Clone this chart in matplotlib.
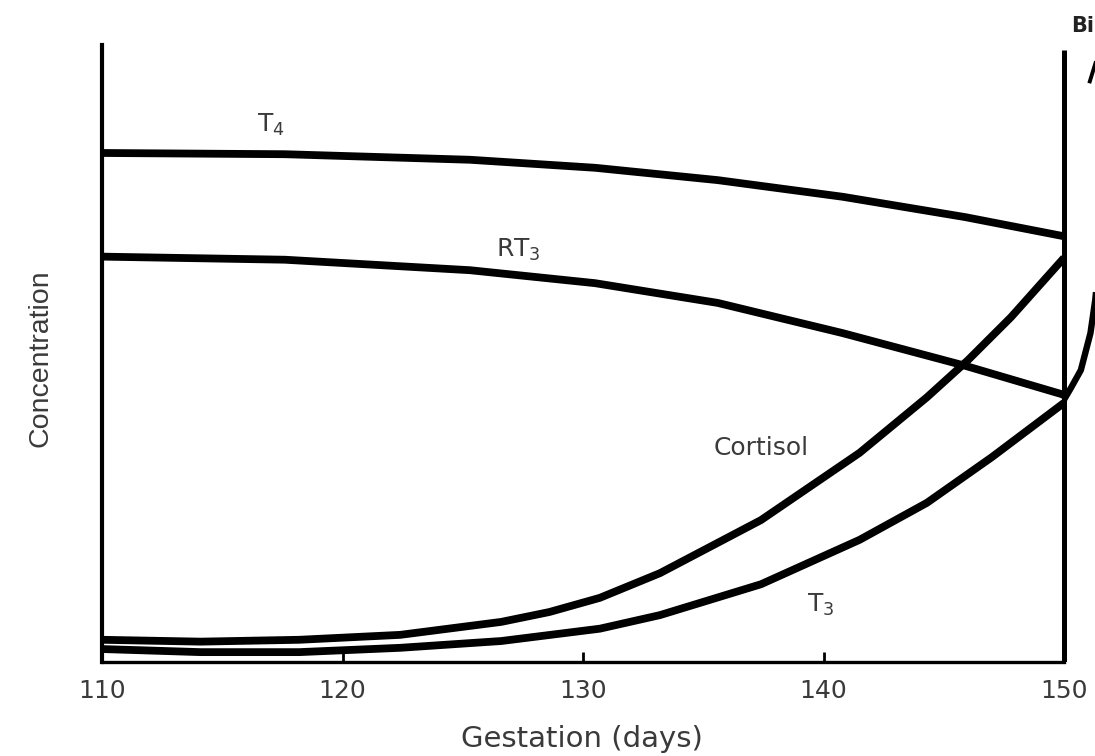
import matplotlib
matplotlib.use("Agg")
import matplotlib.pyplot as plt

plt.rcParams["mathtext.fontset"] = "dejavusans"

# Data; x = gestation day, y = relative concentration (0-100)
t4_days = [110, 117.6, 125.3, 130.5, 135.6, 140.8, 145.9, 150]
t4 = [82.5, 82.3, 81.4, 80.1, 78.1, 75.4, 72.1, 69.0]

rt3_days = [110, 117.6, 125.3, 130.5, 135.6, 140.8, 145.9, 150]
rt3 = [65.7, 65.2, 63.5, 61.4, 58.2, 53.3, 48.0, 43.3]

cort_days = [110, 114.1, 118.2, 122.4, 126.6, 128.6, 130.7, 133.2, 137.4,
             141.5, 144.3, 146.0, 147.8, 150]
cortisol = [3.6, 3.3, 3.6, 4.4, 6.5, 8.1, 10.4, 14.4, 23.0,
            33.9, 42.9, 48.9, 55.9, 65.5]

t3_days = [110, 114.1, 118.2, 122.4, 126.6, 130.7, 133.2, 137.4, 141.5,
           144.3, 147.0, 150]
t3 = [2.1, 1.6, 1.6, 2.3, 3.4, 5.4, 7.6, 12.6, 19.8,
      25.8, 33.2, 42.0]

# steep post-birth rise (runs off the right edge)
post_days = [150.0, 150.3, 150.7, 151.1, 151.3, 151.5]
post_vals = [42.5, 44.5, 47.3, 53.3, 58.7, 66.8]
# short stroke visible at the top right
mark_days = [151.05, 151.35]
mark_vals = [93.8, 97.6]

xticks = [110, 120, 130, 140, 150]
labels = {"T$_4$": (117.0, 87.0), "RT$_3$": (127.3, 66.8),
          "Cortisol": (137.4, 34.7), "T$_3$": (139.9, 9.2)}

TXT = "#3a3a3a"
fig = plt.figure(figsize=(10.95, 7.56), dpi=100)
ax = fig.add_axes([102/1095, 94/756, 1 - 102/1095, (662-45)/756])
ax.set_xlim(110, 110 + (1095-102)/24.05)
ax.set_ylim(0, 100)

lw = 5.6
kw = dict(color="black", lw=lw, solid_capstyle="butt", solid_joinstyle="round")
ax.plot(t4_days, t4, **kw)
ax.plot(rt3_days, rt3, **kw)
ax.plot(cort_days, cortisol, **kw)
ax.plot(t3_days, t3, **kw)
ax.plot(post_days, post_vals, color="black", lw=4.6, solid_capstyle="butt",
        solid_joinstyle="round")
ax.plot(mark_days, mark_vals, color="black", lw=2.8, solid_capstyle="butt")

ax.plot([150, 150], [0, 99.2], color="black", lw=3.6, solid_capstyle="butt")

for s in ["top", "right"]:
    ax.spines[s].set_visible(False)
ax.spines["left"].set_linewidth(3.0)
ax.spines["bottom"].set_linewidth(2.4)
ax.spines["bottom"].set_bounds(110, 150)
ax.set_yticks([])
ax.set_xticks(xticks)
ax.tick_params(axis="x", direction="in", length=7, width=2, pad=12,
               labelsize=18, labelcolor=TXT)
for t in ax.get_xticklabels():
    t.set_fontfamily("DejaVu Sans")

txtkw = dict(fontsize=18, color=TXT, family="DejaVu Sans", ha="center", va="center")
for s, (x, y) in labels.items():
    ax.text(x, y, s, **txtkw)
ax.text(150.3, 103.0, "Birth", fontsize=15, color="#222222", ha="left", va="center",
        family="DejaVu Sans", fontweight="bold", clip_on=False)

fig.text(582/1095, 1 - 739/756, "Gestation (days)", fontsize=21, color=TXT,
         ha="center", va="center", family="DejaVu Sans")
fig.text(41/1095, 1 - 358/756, "Concentration", rotation=90, fontsize=20.5,
         color=TXT, ha="center", va="center", family="Liberation Sans")

fig.savefig("out.png", dpi=100)
